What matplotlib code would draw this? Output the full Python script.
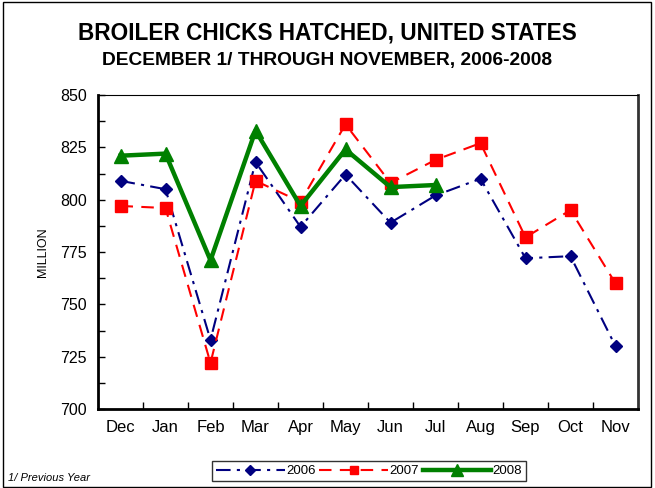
import matplotlib
matplotlib.use("Agg")
import matplotlib.pyplot as plt
from matplotlib.patches import Rectangle

months = ["Dec", "Jan", "Feb", "Mar", "Apr", "May", "Jun", "Jul", "Aug", "Sep", "Oct", "Nov"]
y2006 = [809, 805, 733, 818, 787, 812, 789, 802, 810, 772, 773, 730]
y2007 = [797, 796, 722, 809, 799, 836, 808, 819, 827, 782, 795, 760]
y2008 = [821, 822, 771, 833, 797, 824, 806, 807]
yticks = [700, 725, 750, 775, 800, 825, 850]

plt.rcParams['font.family'] = ['Liberation Sans', 'DejaVu Sans']

fig = plt.figure(figsize=(6.55, 4.88), dpi=100)
ax = fig.add_axes([98/655, 1-409/488, 540/655, 314/488])

x = list(range(len(months)))
ax.plot(x, y2006, color='#000080', linestyle=(0, (7, 3, 1.5, 3)), linewidth=1.5,
        marker='D', markersize=6, label='2006')
ax.plot(x, y2007, color='#FF0000', linestyle=(0, (6, 4)), linewidth=1.5,
        marker='s', markersize=8, label='2007')
ax.plot(x[:len(y2008)], y2008, color='#008000', linestyle='-', linewidth=3.2,
        marker='^', markersize=10, label='2008')

ax.set_xlim(-0.5, len(months) - 0.5)
ax.set_ylim(700, 850)
ax.set_yticks(yticks)
ax.set_yticklabels([str(v) for v in yticks], fontsize=11.5)
ax.set_yticks([v + 12.5 for v in yticks[:-1]], minor=True)
ax.set_xticks(x)
ax.set_xticklabels(months, fontsize=12)
ax.set_xticks([i + 0.5 for i in x[:-1]], minor=True)
ax.tick_params(axis='x', which='major', length=0, pad=8)
ax.tick_params(axis='x', which='minor', direction='in', length=5, width=1)
ax.tick_params(axis='y', which='both', direction='in', length=5, width=1, pad=8)
ax.set_ylabel('MILLION', fontsize=9, labelpad=8)
for s in ['left', 'bottom']:
    ax.spines[s].set_linewidth(2)
ax.spines['top'].set_linewidth(0.8)
ax.spines['right'].set_linewidth(2)
ax.spines['right'].set_color('#333333')

fig.text(0.5, 1-33/488, 'BROILER CHICKS HATCHED, UNITED STATES', ha='center', va='center',
         fontsize=16.3, fontweight='bold')
fig.text(0.5, 1-60/488, 'DECEMBER 1/ THROUGH NOVEMBER, 2006-2008', ha='center', va='center',
         fontsize=13.8, fontweight='bold')
fig.text(8/655, 1-478/488, '1/ Previous Year', ha='left', va='center', fontsize=8, style='italic')

leg = fig.legend(loc='center', bbox_to_anchor=(369/655, 1-471/488), ncol=3, fontsize=9.5,
                 frameon=True, fancybox=False, edgecolor='black', handlelength=5.2,
                 columnspacing=0.3, handletextpad=0.1, borderpad=0.3, markerscale=0.8)
leg.get_frame().set_linewidth(1)

fig.patches.append(Rectangle((0.004, 0.002), 0.99, 0.994, transform=fig.transFigure,
                             fill=False, edgecolor='black', linewidth=1))

fig.savefig('out.png', dpi=100)
